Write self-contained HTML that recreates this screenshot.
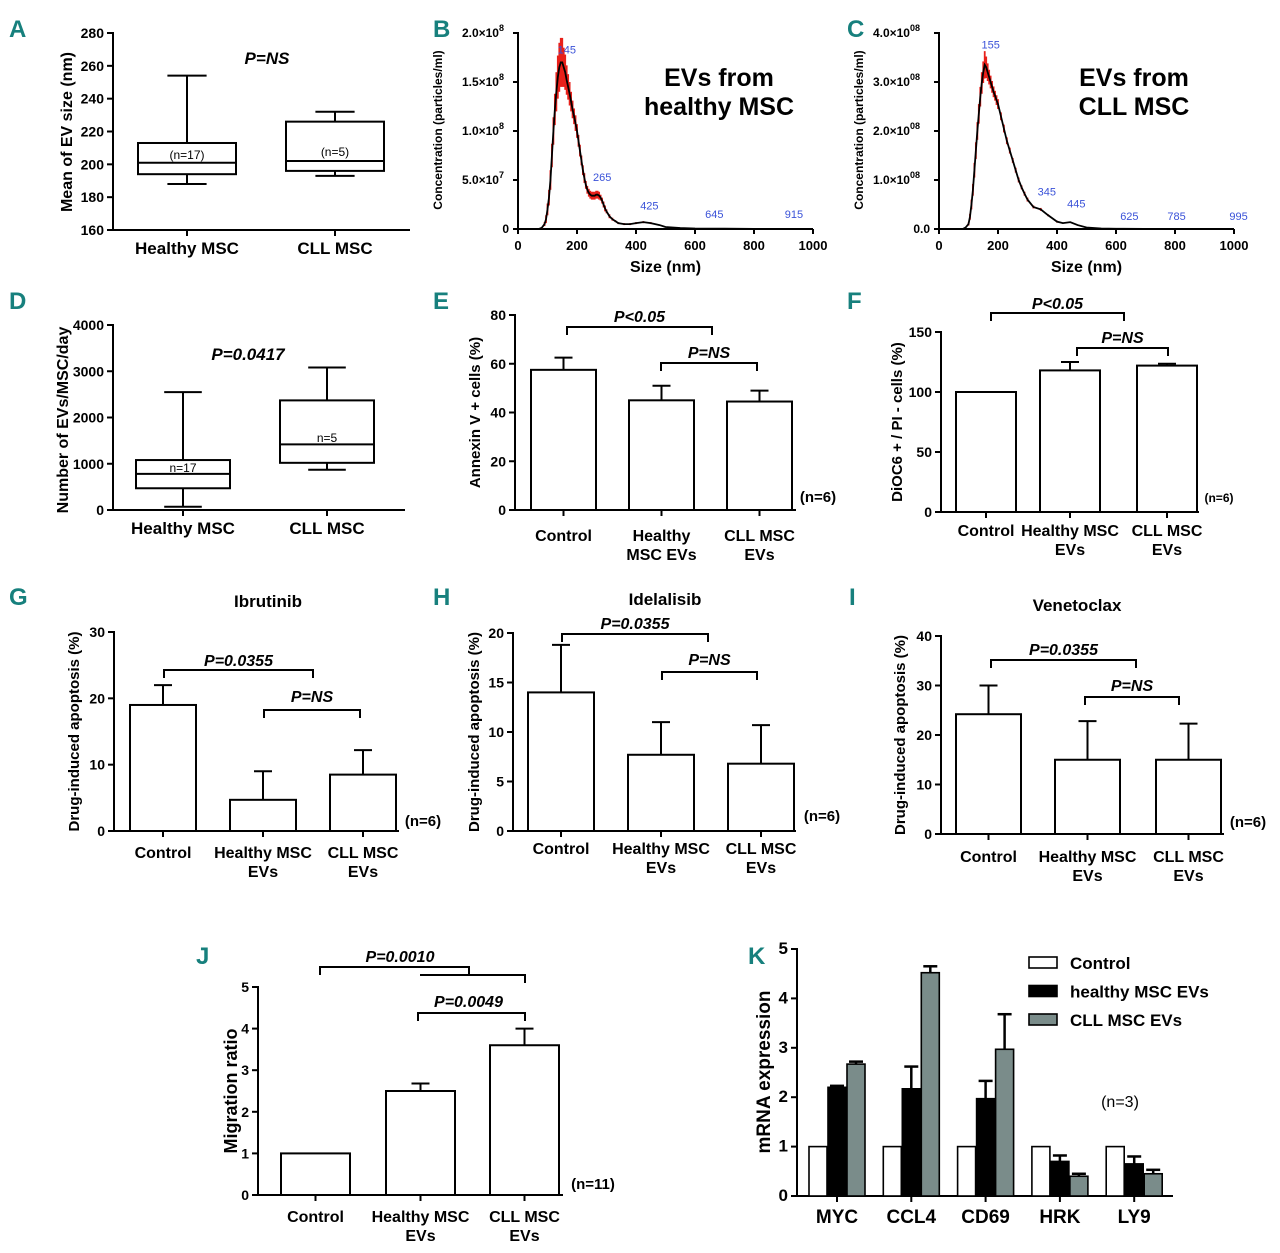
<!DOCTYPE html>
<html><head><meta charset="utf-8">
<style>
html,body{margin:0;padding:0;background:#fff;}
svg{display:block;font-family:"Liberation Sans Narrow","Liberation Sans",sans-serif;}
</style></head>
<body>
<svg id="fig" width="1280" height="1253" viewBox="0 0 1280 1253" xmlns="http://www.w3.org/2000/svg"></svg>
<script>
// ---------- DATA ----------
const boxAGroups=["Healthy MSC","CLL MSC"];
const boxAStats=[[188,194,201,213,254],[193,196,202,226,232]];
const boxANotes=["(n=17)","(n=5)"];
const boxATicks=[160,180,200,220,240,260,280];

const ntaBSizes=[50,70,80,90,95,100,105,110,115,120,125,130,135,140,145,150,155,160,165,170,175,180,185,190,195,200,205,210,215,220,225,230,235,240,245,250,255,260,265,270,275,280,285,290,295,300,310,320,330,340,360,380,400,425,450,480,500,550,600,645,700,750,800,1000];
const ntaBConc=[0,0,0.01,0.05,0.1,0.2,0.32,0.5,0.75,1.0,1.22,1.4,1.55,1.65,1.7,1.7,1.65,1.6,1.52,1.45,1.38,1.3,1.22,1.15,1.08,1.0,0.9,0.8,0.7,0.6,0.52,0.45,0.4,0.37,0.35,0.34,0.34,0.34,0.35,0.35,0.34,0.32,0.29,0.25,0.21,0.18,0.13,0.1,0.08,0.06,0.05,0.05,0.06,0.07,0.06,0.04,0.02,0.01,0.005,0.004,0.003,0.002,0.001,0];
const ntaBErr=[0,0,0.01,0.02,0.04,0.06,0.08,0.1,0.12,0.14,0.16,0.2,0.22,0.25,0.25,0.25,0.2,0.18,0.15,0.13,0.12,0.1,0.09,0.08,0.08,0.07,0.06,0.06,0.05,0.05,0.05,0.04,0.04,0.04,0.04,0.04,0.04,0.04,0.04,0.04,0.04,0.03,0.03,0.03,0.03,0.02,0.02,0.015,0.01,0.01,0.01,0.01,0.01,0.01,0.01,0.005,0.004,0.002,0.001,0.001,0,0,0,0];
const ntaBPeaks=[145,265,425,645,915];
const ntaBPeakY=[1.75,0.45,0.16,0.07,0.07];
const ntaBTicks=[0,0.5,1.0,1.5,2.0];
const ntaBTickLbl=["0","5.0×10|7","1.0×10|8","1.5×10|8","2.0×10|8"];

const ntaCSizes=[50,80,90,100,105,110,115,120,125,130,135,140,145,150,155,160,165,170,175,180,185,190,195,200,210,220,230,240,250,260,270,280,290,300,320,345,370,400,420,445,470,500,550,600,625,700,785,900,1000];
const ntaCConc=[0,0,0.03,0.1,0.25,0.5,0.8,1.2,1.6,2.0,2.35,2.7,2.98,3.2,3.35,3.3,3.2,3.1,3.0,2.9,2.8,2.72,2.63,2.55,2.3,2.05,1.8,1.6,1.4,1.2,1.0,0.85,0.72,0.6,0.45,0.4,0.28,0.15,0.12,0.14,0.08,0.03,0.01,0.005,0.004,0.003,0.002,0.001,0];
const ntaCErr=[0,0,0.01,0.03,0.06,0.1,0.12,0.15,0.17,0.18,0.2,0.2,0.22,0.22,0.28,0.22,0.18,0.15,0.13,0.12,0.11,0.1,0.1,0.1,0.08,0.08,0.07,0.06,0.05,0.05,0.05,0.04,0.04,0.04,0.03,0.03,0.02,0.02,0.01,0.01,0.01,0.005,0,0,0,0,0,0,0];
const ntaCPeaks=[155,345,445,625,785,995];
const ntaCPeakY=[3.6,0.6,0.36,0.1,0.1,0.1];
const ntaCTicks=[0,1,2,3,4];
const ntaCTickLbl=["0.0","1.0×10|08","2.0×10|08","3.0×10|08","4.0×10|08"];

const boxDGroups=["Healthy MSC","CLL MSC"];
const boxDStats=[[70,470,780,1080,2550],[870,1020,1420,2370,3080]];
const boxDNotes=["n=17","n=5"];
const boxDTicks=[0,1000,2000,3000,4000];

const barECats=[["Control"],["Healthy","MSC EVs"],["CLL MSC","EVs"]];
const barEVals=[57.5,45,44.5];
const barEErr=[5,6,4.5];
const barETicks=[0,20,40,60,80];

const barFCats=[["Control"],["Healthy MSC","EVs"],["CLL MSC","EVs"]];
const barFVals=[100,118,122];
const barFErr=[0,7,1.5];
const barFTicks=[0,50,100,150];

const barGCats=[["Control"],["Healthy MSC","EVs"],["CLL MSC","EVs"]];
const barGVals=[19,4.7,8.5];
const barGErr=[3,4.3,3.7];
const barGTicks=[0,10,20,30];

const barHCats=[["Control"],["Healthy MSC","EVs"],["CLL MSC","EVs"]];
const barHVals=[14,7.7,6.8];
const barHErr=[4.8,3.3,3.9];
const barHTicks=[0,5,10,15,20];

const barICats=[["Control"],["Healthy MSC","EVs"],["CLL MSC","EVs"]];
const barIVals=[24.2,15,15];
const barIErr=[5.8,7.8,7.3];
const barITicks=[0,10,20,30,40];

const barJCats=[["Control"],["Healthy MSC","EVs"],["CLL MSC","EVs"]];
const barJVals=[1,2.5,3.6];
const barJErr=[0,0.18,0.4];
const barJTicks=[0,1,2,3,4,5];

const genesK=["MYC","CCL4","CD69","HRK","LY9"];
const seriesKNames=["Control","healthy MSC EVs","CLL MSC EVs"];
const kControl=[1,1,1,1,1];
const kHealthy=[2.2,2.17,1.97,0.7,0.65];
const kHealthyErr=[0.03,0.45,0.36,0.12,0.15];
const kCLL=[2.67,4.52,2.97,0.4,0.45];
const kCLLErr=[0.05,0.13,0.71,0.05,0.08];
const kTicks=[0,1,2,3,4,5];

// ---------- HELPERS ----------
const svg=document.getElementById('fig');
const NS="http://www.w3.org/2000/svg";
function el(tag,attrs,parent){const e=document.createElementNS(NS,tag);for(const k in attrs)e.setAttribute(k,attrs[k]);(parent||svg).appendChild(e);return e;}
function grp(name){const g=el('g',{});return g;}
function lin(d0,d1,r0,r1){return v=>r0+(v-d0)/(d1-d0)*(r1-r0);}
function txt(p,x,y,s,size,opts){opts=opts||{};const t=el('text',{x:x,y:y,'font-size':size,'font-weight':opts.w||'bold','text-anchor':opts.a||'middle',fill:opts.fill||'#000'},p);if(opts.italic)t.setAttribute('font-style','italic');if(opts.rot)t.setAttribute('transform','rotate(-90 '+x+' '+y+')');t.textContent=s;return t;}
function line(p,x1,y1,x2,y2,w){return el('line',{x1:x1,y1:y1,x2:x2,y2:y2,stroke:'#000','stroke-width':w||2},p);}
function letter(s,x,y){const t=txt(svg,x,y,s,24,{a:'start',fill:'#17807d'});}
function yAxis(p,x,ys,ticks,lbl,fs){line(p,x,ys(ticks[0])+1,x,ys(ticks[ticks.length-1])-1,2);ticks.forEach((t,i)=>{const y=ys(t);line(p,x-6,y,x,y,2);txt(p,x-9,y+5,lbl?lbl[i]:String(t),fs||14,{a:'end'});});}
function bracket(p,x1,x2,y,h){const path=el('path',{d:`M${x1} ${y+h}V${y}H${x2}V${y+h}`,fill:'none',stroke:'#000','stroke-width':2},p);}

// ---------- BOX PLOTS ----------
function boxPanel(name,groups,stats,notes,ticks,cfg){
  const g=grp(name);
  const ys=lin(ticks[0],ticks[ticks.length-1],cfg.y0,cfg.y1);
  yAxis(g,cfg.ax,ys,ticks,null,14);
  line(g,cfg.ax-1,cfg.y0,cfg.ax2,cfg.y0,2);
  groups.forEach((gn,i)=>{
    const cx=cfg.cx[i],hw=cfg.hw,s=stats[i];
    const b=grp('box-'+gn.toLowerCase().replace(/ /g,'-'));g.appendChild(b);
    line(b,cx,ys(s[0]),cx,ys(s[1]));line(b,cx,ys(s[3]),cx,ys(s[4]));
    line(b,cx-hw*0.4,ys(s[0]),cx+hw*0.4,ys(s[0]));line(b,cx-hw*0.4,ys(s[4]),cx+hw*0.4,ys(s[4]));
    el('rect',{x:cx-hw,y:ys(s[3]),width:2*hw,height:ys(s[1])-ys(s[3]),fill:'none',stroke:'#000','stroke-width':2},b);
    line(b,cx-hw,ys(s[2]),cx+hw,ys(s[2]));
    line(g,cx,cfg.y0,cx,cfg.y0+6);
    txt(b,cx,cfg.noteY[i],notes[i],12,{w:'normal'});
    const l=txt(g,cx,cfg.y0+24,gn,17);
  });
  const t=txt(g,cfg.titleX,cfg.titleY,cfg.title,16,{rot:true});
  txt(g,cfg.pX,cfg.pY,cfg.p,17,{italic:true});
}
boxPanel('panel-a-box-plot',boxAGroups,boxAStats,boxANotes,boxATicks,{y0:230,y1:33,ax:113,ax2:410,cx:[187,335],hw:49,noteY:[159,156],title:'Mean of EV size (nm)',titleX:72,titleY:132,p:'P=NS',pX:267,pY:64});
boxPanel('panel-d-box-plot',boxDGroups,boxDStats,boxDNotes,boxDTicks,{y0:510,y1:325,ax:113,ax2:405,cx:[183,327],hw:47,noteY:[472,442],title:'Number of EVs/MSC/day',titleX:68,titleY:420,p:'P=0.0417',pX:248,pY:360});

// ---------- NTA ----------
function ntaPanel(name,sizes,conc,err,peaks,peakY,ticks,tickLbl,cfg){
  const g=grp(name);
  const xs=lin(0,1000,518+cfg.dx,813+cfg.dx), ys=lin(0,ticks[ticks.length-1],229,33);
  line(g,xs(0),229,xs(0),32,2);
  ticks.forEach((t,i)=>{const y=ys(t);line(g,xs(0)-5,y,xs(0),y,2);const parts=tickLbl[i].split('|');const tt=txt(g,xs(0)-9,y+4,parts[0],12,{a:'end'});if(parts[1]){tt.setAttribute('x',xs(0)-9-(parts[1].length*5));const sp=el('tspan',{dy:-6,'font-size':9},tt);sp.textContent=parts[1];}});
  line(g,xs(0)-1,229,xs(1000),229,2);
  [0,200,400,600,800,1000].forEach(v=>{line(g,xs(v),229,xs(v),234,2);txt(g,xs(v),250,String(v),13);});
  const eb=grp('error-bars');g.appendChild(eb);
  sizes.forEach((s,i)=>{if(err[i]>0)el('line',{x1:xs(s),x2:xs(s),y1:ys(conc[i]-err[i]),y2:ys(conc[i]+err[i]),stroke:'#e8201a','stroke-width':1.8},eb);});
  const pl=el('polyline',{points:sizes.map((s,i)=>xs(s)+','+ys(conc[i])).join(' '),fill:'none',stroke:'#000','stroke-width':1.8},g);
  
  peaks.forEach((p,i)=>{txt(g,xs(p)+6,ys(peakY[i])-4,String(p),11,{w:'normal',fill:'#3a52d8'});});
  txt(g,xs(500),272,'Size (nm)',16);
  const t=txt(g,xs(0)-76,130,'Concentration (particles/ml)',12,{rot:true});
  txt(g,cfg.tx,86,cfg.t1,25);txt(g,cfg.tx,115,cfg.t2,25);
}
ntaPanel('panel-b-nta',ntaBSizes,ntaBConc,ntaBErr,ntaBPeaks,ntaBPeakY,ntaBTicks,ntaBTickLbl,{dx:0,tx:719,t1:'EVs from',t2:'healthy MSC'});
ntaPanel('panel-c-nta',ntaCSizes,ntaCConc,ntaCErr,ntaCPeaks,ntaCPeakY,ntaCTicks,ntaCTickLbl,{dx:421,tx:1134,t1:'EVs from',t2:'CLL MSC'});

// ---------- BAR PANELS ----------
function barPanel(name,cats,vals,errs,ticks,cfg){
  const g=grp(name);
  const ys=lin(0,ticks[ticks.length-1],cfg.y0,cfg.y1);
  yAxis(g,cfg.ax,ys,ticks,null,14);
  line(g,cfg.ax-1,cfg.y0,cfg.ax2,cfg.y0,2);
  cats.forEach((c,i)=>{
    const x=cfg.bx[i],w=cfg.bw,cx=x+w/2;
    const b=grp('bar-'+c.join('-').toLowerCase().replace(/ /g,'-'));g.appendChild(b);
    if(errs[i]>0){line(b,cx,ys(vals[i]),cx,ys(vals[i]+errs[i]));line(b,cx-9,ys(vals[i]+errs[i]),cx+9,ys(vals[i]+errs[i]));}
    el('rect',{x:x,y:ys(vals[i]),width:w,height:cfg.y0-ys(vals[i]),fill:'#fff',stroke:'#000','stroke-width':2},b);
    line(g,cx,cfg.y0,cx,cfg.y0+6);
    c.forEach((ln,j)=>{const l=txt(g,cx,cfg.y0+cfg.ly+j*19,ln,16);});
  });
  const t=txt(g,cfg.titleX,(cfg.y0+cfg.y1)/2,cfg.yt,cfg.ytFs||15,{rot:true});
  if(cfg.title)txt(g,cfg.titleCx,cfg.titleY,cfg.title,17);
  txt(g,cfg.nX,cfg.nY,cfg.n,cfg.nFs||15);
  (cfg.br||[]).forEach(bb=>{bracket(g,bb[0],bb[1],bb[2],8);txt(g,(bb[0]+bb[1])/2+(bb[5]||0),bb[3],bb[4],16,{italic:true});});
  return g;
}
barPanel('panel-e-annexin',barECats,barEVals,barEErr,barETicks,{y0:510,y1:315,ax:515,ax2:796,bx:[531,629,727],bw:65,ly:31,yt:'Annexin V + cells (%)',titleX:480,n:'(n=6)',nX:818,nY:502,br:[[567,712,327,322,'P<0.05'],[661,757,363,358,'P=NS']]});
barPanel('panel-f-dioc6',barFCats,barFVals,barFErr,barFTicks,{y0:512,y1:332,ax:941,ax2:1199,bx:[956,1040,1137],bw:60,ly:24,yt:'DiOC6 + / PI - cells (%)',titleX:902,n:'(n=6)',nX:1219,nY:502,nFs:12,br:[[991,1124,313,309,'P<0.05'],[1077,1168,348,343,'P=NS']]});
barPanel('panel-g-ibrutinib',barGCats,barGVals,barGErr,barGTicks,{y0:831,y1:632,ax:114,ax2:399,bx:[130,230,330],bw:66,ly:27,yt:'Drug-induced apoptosis (%)',titleX:79,title:'Ibrutinib',titleCx:268,titleY:607,n:'(n=6)',nX:423,nY:826,br:[[164,313,670,666,'P=0.0355'],[264,360,710,702,'P=NS']]});
barPanel('panel-h-idelalisib',barHCats,barHVals,barHErr,barHTicks,{y0:831,y1:633,ax:513,ax2:796,bx:[528,628,728],bw:66,ly:23,yt:'Drug-induced apoptosis (%)',titleX:479,title:'Idelalisib',titleCx:665,titleY:605,n:'(n=6)',nX:822,nY:821,br:[[562,708,634,629,'P=0.0355'],[662,757,672,665,'P=NS']]});
barPanel('panel-i-venetoclax',barICats,barIVals,barIErr,barITicks,{y0:834,y1:636,ax:941,ax2:1224,bx:[956,1055,1156],bw:65,ly:28,yt:'Drug-induced apoptosis (%)',titleX:905,title:'Venetoclax',titleCx:1077,titleY:611,n:'(n=6)',nX:1248,nY:827,br:[[991,1136,660,655,'P=0.0355'],[1085,1179,697,691,'P=NS']]});
const gJ=barPanel('panel-j-migration',barJCats,barJVals,barJErr,barJTicks,{y0:1195,y1:987,ax:258,ax2:563,bx:[281,386,490],bw:69,ly:27,yt:'Migration ratio',ytFs:18,titleX:237,n:'(n=11)',nX:593,nY:1189,br:[[418,525,1013,1007,'P=0.0049',-3]]});
bracket(gJ,320,469,967,8);
{const p=el('path',{d:'M420 975H525V983',fill:'none',stroke:'#000','stroke-width':2},gJ);}
txt(gJ,400,962,'P=0.0010',16,{italic:true});

// ---------- PANEL K ----------
{
  const g=grp('panel-k-mrna');
  const ys=lin(0,5,1196,949);
  yAxis(g,797,ys,kTicks,null,17);
  line(g,796,1196,1173,1196,2);
  const centers=genesK.map((_,i)=>837+i*74.3);
  const fills=['#fff','#000','#7a8c8a'];
  const sv=[kControl,kHealthy,kCLL], se=[null,kHealthyErr,kCLLErr];
  genesK.forEach((gn,i)=>{
    const cx=centers[i];
    line(g,cx,1196,cx,1202);
    const l=txt(g,cx,1223,gn,19);
    sv.forEach((arr,s)=>{
      const x=cx-28+s*19,w=18,v=arr[i],b=grp('bar-'+gn.toLowerCase()+'-'+s);g.appendChild(b);
      if(se[s]&&se[s][i]>0){const top=ys(v+se[s][i]);line(b,x+w/2,ys(v),x+w/2,top,2.5);line(b,x+w/2-7,top,x+w/2+7,top,2.5);}
      el('rect',{x:x,y:ys(v),width:w,height:1196-ys(v),fill:fills[s],stroke:'#000','stroke-width':1.6},b);
    });
  });
  seriesKNames.forEach((n,s)=>{
    const lg=grp('legend-entry-'+s);g.appendChild(lg);
    const y=963+s*28.5;
    el('rect',{x:1029,y:y-6,width:28,height:11,fill:fills[s],stroke:'#000','stroke-width':1.6},lg);
    txt(lg,1070,y+6,n,17,{a:'start'});
  });
  txt(g,1120,1107,'(n=3)',16,{w:'normal'});
  const t=txt(g,770,1072,'mRNA expression',19,{rot:true});
}

// ---------- LETTERS ----------
[['A',9,37],['B',433,37],['C',847,37],['D',9,309],['E',433,309],['F',847,309],['G',9,605],['H',433,605],['I',849,605],['J',196,964],['K',748,964]].forEach(a=>letter(a[0],a[1],a[2]));
</script>
</body></html>
